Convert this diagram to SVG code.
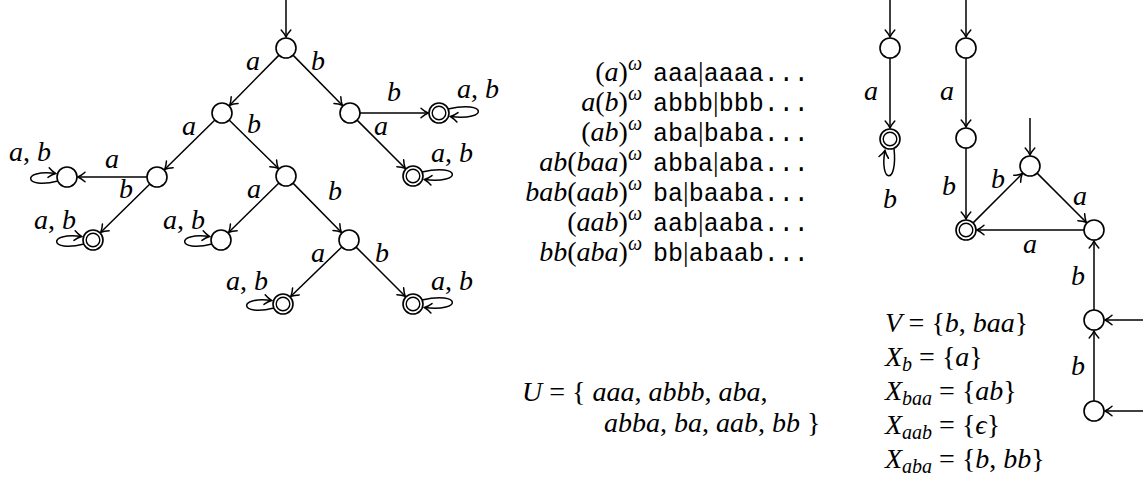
<svg xmlns="http://www.w3.org/2000/svg" width="1143" height="483" viewBox="0 0 1143 483">
<style>
.st{fill:#fff;stroke:#000;stroke-width:1.6}
.ac{fill:none;stroke:#000;stroke-width:1.4}
.e{fill:none;stroke:#000;stroke-width:1.5;marker-end:url(#arr)}
.m{font-family:"Liberation Serif",serif;font-style:italic;font-size:28px;fill:#000}
.l{font-family:"Liberation Serif",serif;font-style:italic;font-size:28px;fill:#000;text-anchor:middle}
.u{font-style:normal}
.sup{font-size:20px}
.sub{font-size:20px}
.tt{font-family:"Liberation Mono",monospace;font-style:normal;font-size:25px}
.bar{font-family:"Liberation Serif",serif;font-style:normal;font-size:28px}
</style>
<defs>
<marker id="arr" markerUnits="userSpaceOnUse" viewBox="-9 -7 11 14" refX="0" refY="0" markerWidth="11" markerHeight="14" orient="auto" overflow="visible">
<path d="M -7 -4.8 C -4.5 -2.5 -1.5 -0.7 0 0 C -1.5 0.7 -4.5 2.5 -7 4.8" fill="none" stroke="#000" stroke-width="1.5" stroke-linecap="round"/>
</marker>
</defs>

<g id="connectors">
<path class="e" d="M286 0 L286 37"/>
<path class="e" d="M279 55.1 L229.7 105.2"/>
<path class="e" d="M293 55.1 L342.3 105.2"/>
<path class="e" d="M360 113 L428 113"/>
<path class="e" d="M357.1 120.1 L405.2 168.2"/>
<path class="e" d="M214.9 120 L164.8 169.3"/>
<path class="e" d="M229.1 120 L278.2 168.3"/>
<path class="e" d="M147 177 L78 177"/>
<path class="e" d="M149.9 184 L100.8 232.3"/>
<path class="e" d="M278.9 183 L228.8 232.3"/>
<path class="e" d="M293 183.1 L341.3 232.2"/>
<path class="e" d="M341.8 247 L290.9 296.3"/>
<path class="e" d="M356.1 247.1 L405.2 296.2"/>
<path class="e" d="M58 181 C23 190, 21 169, 55.5 173.5"/>
<path class="e" d="M84 244 C49 253, 47 232, 81.5 236.5"/>
<path class="e" d="M212 244 C177 253, 175 232, 209.5 236.5"/>
<path class="e" d="M274 308 C239 317, 237 296, 271.5 300.5"/>
<path class="e" d="M448 109 C487 100, 489 121, 450.5 116.5"/>
<path class="e" d="M422 172 C461 163, 463 184, 424.5 179.5"/>
<path class="e" d="M422 300 C461 291, 463 312, 424.5 307.5"/>
<path class="e" d="M890 0 L890 37"/>
<path class="e" d="M890 58 L890 128"/>
<path class="e" d="M894 148.5 C898 186, 879 183, 885 150.5"/>
<path class="e" d="M966 0 L966 37"/>
<path class="e" d="M966 58 L966 127"/>
<path class="e" d="M966 148 L966 219"/>
<path class="e" d="M1030 118 L1030 155"/>
<path class="e" d="M973.1 222.9 L1022.2 173.8"/>
<path class="e" d="M1037.1 173.1 L1086.2 222.2"/>
<path class="e" d="M1084 230 L977 230"/>
<path class="e" d="M1094 310 L1094 241"/>
<path class="e" d="M1143 320 L1105 320"/>
<path class="e" d="M1094 401 L1094 331"/>
<path class="e" d="M1143 411 L1105 411"/>
</g>

<g id="tree-nodes">
<g id="t0"><circle class="st" cx="286" cy="48" r="10"/></g>
<g id="t1"><circle class="st" cx="222" cy="113" r="10"/></g>
<g id="t2"><circle class="st" cx="350" cy="113" r="10"/></g>
<g id="t3"><circle class="st" cx="439" cy="113" r="10"/><circle class="ac" cx="439" cy="113" r="6.8"/></g>
<g id="t4"><circle class="st" cx="413" cy="176" r="10"/><circle class="ac" cx="413" cy="176" r="6.8"/></g>
<g id="t5"><circle class="st" cx="157" cy="177" r="10"/></g>
<g id="t6"><circle class="st" cx="286" cy="176" r="10"/></g>
<g id="t7"><circle class="st" cx="67" cy="177" r="10"/></g>
<g id="t8"><circle class="st" cx="93" cy="240" r="10"/><circle class="ac" cx="93" cy="240" r="6.8"/></g>
<g id="t9"><circle class="st" cx="221" cy="240" r="10"/></g>
<g id="t10"><circle class="st" cx="349" cy="240" r="10"/></g>
<g id="t11"><circle class="st" cx="283" cy="304" r="10"/><circle class="ac" cx="283" cy="304" r="6.8"/></g>
<g id="t12"><circle class="st" cx="413" cy="304" r="10"/><circle class="ac" cx="413" cy="304" r="6.8"/></g>
</g>

<g id="tree-labels">
<text class="l" x="253" y="70">a</text>
<text class="l" x="318" y="70">b</text>
<text class="l" x="394" y="101">b</text>
<text class="l" x="478" y="98">a<tspan class="u">,</tspan> b</text>
<text class="l" x="381" y="135">a</text>
<text class="l" x="452" y="162">a<tspan class="u">,</tspan> b</text>
<text class="l" x="189" y="135">a</text>
<text class="l" x="254" y="133">b</text>
<text class="l" x="112" y="168">a</text>
<text class="l" x="126" y="198">b</text>
<text class="l" x="30" y="161">a<tspan class="u">,</tspan> b</text>
<text class="l" x="55" y="229">a<tspan class="u">,</tspan> b</text>
<text class="l" x="184" y="229">a<tspan class="u">,</tspan> b</text>
<text class="l" x="254" y="198">a</text>
<text class="l" x="335" y="200">b</text>
<text class="l" x="318" y="262">a</text>
<text class="l" x="382" y="262">b</text>
<text class="l" x="247" y="290">a<tspan class="u">,</tspan> b</text>
<text class="l" x="452" y="290">a<tspan class="u">,</tspan> b</text>
</g>

<g id="words">
<text class="m" x="642" y="81" text-anchor="end"><tspan class="u">(</tspan>a<tspan class="u">)</tspan><tspan class="sup" dy="-11">ω</tspan></text>
<text x="653" y="81"><tspan class="tt">aaa</tspan><tspan class="bar">|</tspan><tspan class="tt">aaaa...</tspan></text>
<text class="m" x="642" y="111" text-anchor="end">a<tspan class="u">(</tspan>b<tspan class="u">)</tspan><tspan class="sup" dy="-11">ω</tspan></text>
<text x="653" y="111"><tspan class="tt">abbb</tspan><tspan class="bar">|</tspan><tspan class="tt">bbb...</tspan></text>
<text class="m" x="642" y="141" text-anchor="end"><tspan class="u">(</tspan>ab<tspan class="u">)</tspan><tspan class="sup" dy="-11">ω</tspan></text>
<text x="653" y="141"><tspan class="tt">aba</tspan><tspan class="bar">|</tspan><tspan class="tt">baba...</tspan></text>
<text class="m" x="642" y="171" text-anchor="end">ab<tspan class="u">(</tspan>baa<tspan class="u">)</tspan><tspan class="sup" dy="-11">ω</tspan></text>
<text x="653" y="171"><tspan class="tt">abba</tspan><tspan class="bar">|</tspan><tspan class="tt">aba...</tspan></text>
<text class="m" x="642" y="201" text-anchor="end">bab<tspan class="u">(</tspan>aab<tspan class="u">)</tspan><tspan class="sup" dy="-11">ω</tspan></text>
<text x="653" y="201"><tspan class="tt">ba</tspan><tspan class="bar">|</tspan><tspan class="tt">baaba...</tspan></text>
<text class="m" x="642" y="231" text-anchor="end"><tspan class="u">(</tspan>aab<tspan class="u">)</tspan><tspan class="sup" dy="-11">ω</tspan></text>
<text x="653" y="231"><tspan class="tt">aab</tspan><tspan class="bar">|</tspan><tspan class="tt">aaba...</tspan></text>
<text class="m" x="642" y="261" text-anchor="end">bb<tspan class="u">(</tspan>aba<tspan class="u">)</tspan><tspan class="sup" dy="-11">ω</tspan></text>
<text x="653" y="261"><tspan class="tt">bb</tspan><tspan class="bar">|</tspan><tspan class="tt">abaab...</tspan></text>
</g>

<g id="set-U">
<text class="m" x="522" y="401">U <tspan class="u">= {</tspan> aaa<tspan class="u">,</tspan> abbb<tspan class="u">,</tspan> aba<tspan class="u">,</tspan></text>
<text class="m" x="604" y="432">abba<tspan class="u">,</tspan> ba<tspan class="u">,</tspan> aab<tspan class="u">,</tspan> bb <tspan class="u">}</tspan></text>
</g>

<g id="aut-nodes">
<g id="r0"><circle class="st" cx="890" cy="48" r="10"/></g>
<g id="r1"><circle class="st" cx="890" cy="139" r="10"/><circle class="ac" cx="890" cy="139" r="6.8"/></g>
<g id="r2"><circle class="st" cx="966" cy="48" r="10"/></g>
<g id="r3"><circle class="st" cx="966" cy="138" r="10"/></g>
<g id="r4"><circle class="st" cx="966" cy="230" r="10"/><circle class="ac" cx="966" cy="230" r="6.8"/></g>
<g id="r5"><circle class="st" cx="1030" cy="166" r="10"/></g>
<g id="r6"><circle class="st" cx="1094" cy="230" r="10"/></g>
<g id="r7"><circle class="st" cx="1094" cy="320" r="10"/></g>
<g id="r8"><circle class="st" cx="1094" cy="411" r="10"/></g>
</g>

<g id="aut-labels">
<text class="l" x="871" y="100">a</text>
<text class="l" x="890" y="208">b</text>
<text class="l" x="947" y="100">a</text>
<text class="l" x="949" y="195">b</text>
<text class="l" x="998" y="188">b</text>
<text class="l" x="1080" y="205">a</text>
<text class="l" x="1030" y="253">a</text>
<text class="l" x="1078" y="285">b</text>
<text class="l" x="1078" y="375">b</text>
</g>

<g id="sets-VX">
<text class="m" x="885" y="332">V <tspan class="u">= {</tspan>b<tspan class="u">,</tspan> baa<tspan class="u">}</tspan></text>
<text class="m" x="885" y="366">X<tspan class="sub" dy="5">b</tspan><tspan class="u" dy="-5"> = {</tspan>a<tspan class="u">}</tspan></text>
<text class="m" x="885" y="400">X<tspan class="sub" dy="5">baa</tspan><tspan class="u" dy="-5"> = {</tspan>ab<tspan class="u">}</tspan></text>
<text class="m" x="885" y="434">X<tspan class="sub" dy="5">aab</tspan><tspan class="u" dy="-5"> = {</tspan>ϵ<tspan class="u">}</tspan></text>
<text class="m" x="885" y="468">X<tspan class="sub" dy="5">aba</tspan><tspan class="u" dy="-5"> = {</tspan>b<tspan class="u">,</tspan> bb<tspan class="u">}</tspan></text>
</g>
</svg>
